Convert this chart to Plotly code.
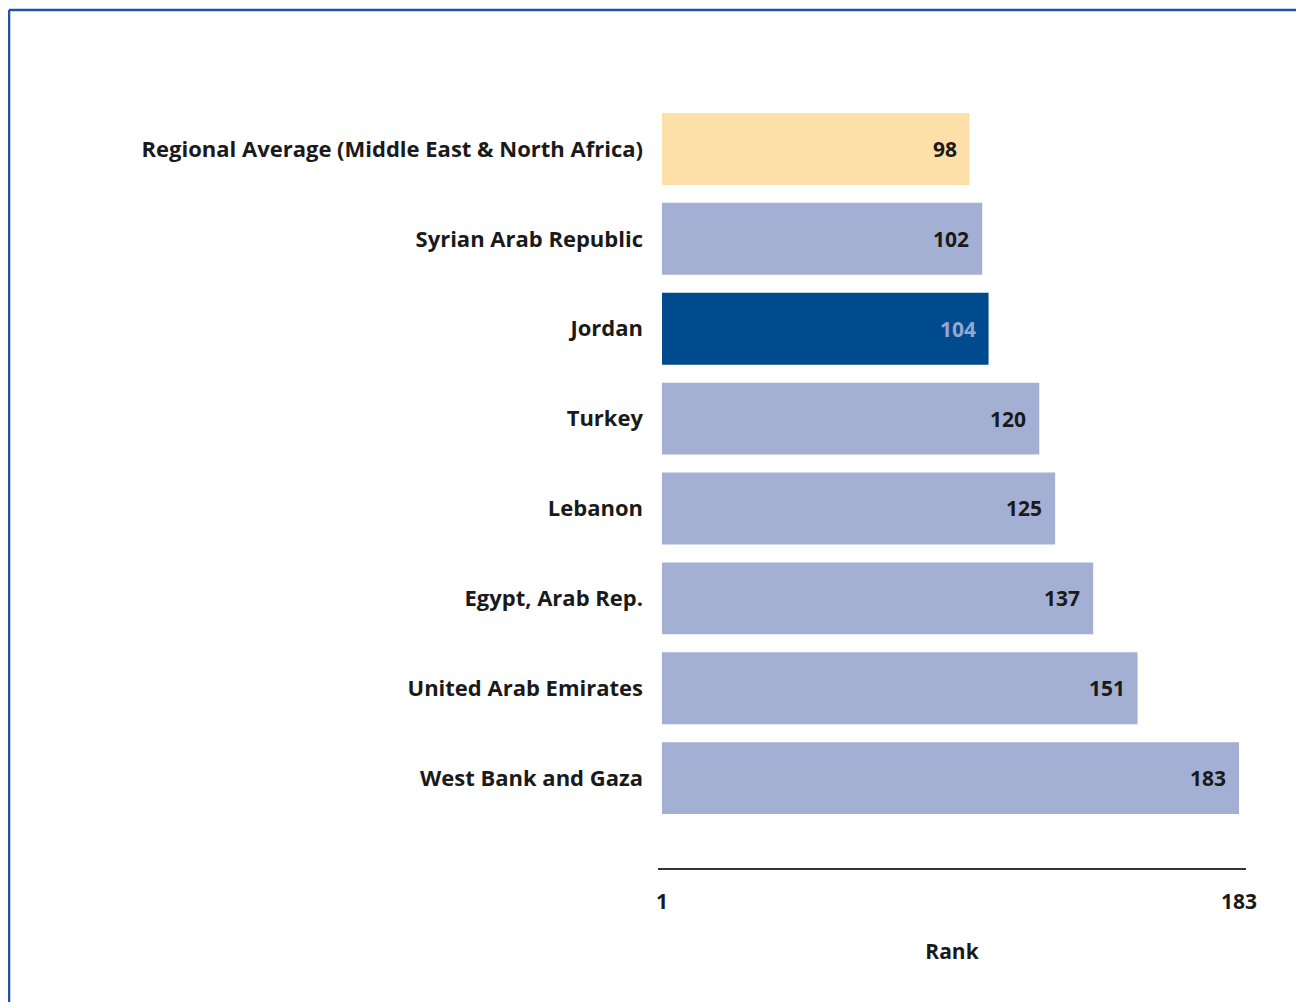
import plotly.graph_objects as go

categories = [
    "Regional Average (Middle East & North Africa)",
    "Syrian Arab Republic",
    "Jordan",
    "Turkey",
    "Lebanon",
    "Egypt, Arab Rep.",
    "United Arab Emirates",
    "West Bank and Gaza",
]
ranks = [98, 102, 104, 120, 125, 137, 151, 183]
bar_colors = ["#FDDFA8", "#A4B0D3", "#004B8D", "#A4B0D3", "#A4B0D3", "#A4B0D3", "#A4B0D3", "#A4B0D3"]
text_colors = ["#1a1a1a", "#1a1a1a", "#95A6CF", "#1a1a1a", "#1a1a1a", "#1a1a1a", "#1a1a1a", "#1a1a1a"]
rank_min = 1
rank_max = 183
tick_vals = [1, 183]
tick_text = ["1", "183"]
axis_title = "Rank"

FONT = "Open Sans"
FS = 22

fig = go.Figure()
fig.add_trace(go.Bar(
    y=categories,
    x=[r - rank_min for r in ranks],
    base=rank_min,
    orientation="h",
    marker=dict(color=bar_colors, line=dict(width=0)),
    width=0.8,
    hoverinfo="skip",
))

for cat, r, tc in zip(categories, ranks, text_colors):
    fig.add_annotation(
        x=r, y=cat, text=f"<b>{r}</b>", showarrow=False,
        xanchor="right", xshift=-11,
        font=dict(family=FONT, size=21, color=tc),
    )

# border lines (top and left)
fig.add_shape(type="line", xref="paper", yref="paper",
              x0=-1.1037, x1=1.3, y0=1.123, y1=1.123,
              line=dict(color="#1F559E", width=2.5))
fig.add_shape(type="line", xref="paper", yref="paper",
              x0=-1.1037, x1=-1.1037, y0=1.123, y1=-0.3,
              line=dict(color="#1F559E", width=2.5))

fig.update_layout(
    width=1296, height=994,
    margin=dict(l=650, r=58, t=96, b=134),
    paper_bgcolor="white", plot_bgcolor="white",
    showlegend=False,
    font=dict(family=FONT, size=FS, color="#1a1a1a"),
    bargap=0.2,
)
fig.update_xaxes(
    range=[-0.26, 185.2],
    tickvals=tick_vals, ticktext=[f"<b>{t}</b>" for t in tick_text],
    showgrid=False, zeroline=False,
    showline=True, linecolor="#333333", linewidth=2,
    ticks="", ticklabelstandoff=14,
    title=dict(text=f"<b>{axis_title}</b>", standoff=30,
               font=dict(family=FONT, size=21, color="#1a1a1a")),
    tickfont=dict(family=FONT, size=21, color="#1a1a1a"),
)
fig.update_yaxes(
    categoryorder="array", categoryarray=categories,
    range=[8.0, -0.5],
    showgrid=False, zeroline=False, showline=False,
    ticks="", ticklabelstandoff=14,
    tickvals=categories, ticktext=[f"<b>{c}</b>" for c in categories],
    tickfont=dict(family=FONT, size=FS, color="#1a1a1a"),
)

fig.write_html("out.html")
